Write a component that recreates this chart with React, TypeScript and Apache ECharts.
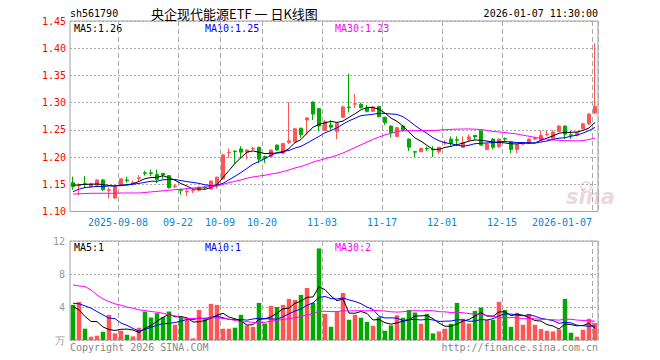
import React, { useEffect, useRef } from 'react';
import * as echarts from 'echarts';

const dates = [
  '2025-08-27','2025-08-28','2025-08-29',
  '2025-09-01','2025-09-02','2025-09-03','2025-09-04','2025-09-05','2025-09-08','2025-09-09','2025-09-10','2025-09-11','2025-09-12',
  '2025-09-15','2025-09-16','2025-09-17','2025-09-18','2025-09-19','2025-09-22','2025-09-23','2025-09-24','2025-09-25','2025-09-26',
  '2025-09-29','2025-09-30',
  '2025-10-09','2025-10-10','2025-10-13','2025-10-14','2025-10-15','2025-10-16','2025-10-17','2025-10-20','2025-10-21','2025-10-22',
  '2025-10-23','2025-10-24','2025-10-27','2025-10-28','2025-10-29','2025-10-30','2025-10-31',
  '2025-11-03','2025-11-04','2025-11-05','2025-11-06','2025-11-07','2025-11-10','2025-11-11','2025-11-12','2025-11-13','2025-11-14',
  '2025-11-17','2025-11-18','2025-11-19','2025-11-20','2025-11-21','2025-11-24','2025-11-25','2025-11-26','2025-11-27','2025-11-28',
  '2025-12-01','2025-12-02','2025-12-03','2025-12-04','2025-12-05','2025-12-08','2025-12-09','2025-12-10','2025-12-11','2025-12-12',
  '2025-12-15','2025-12-16','2025-12-17','2025-12-18','2025-12-19','2025-12-22','2025-12-23','2025-12-24','2025-12-25','2025-12-26',
  '2025-12-29','2025-12-30','2025-12-31',
  '2026-01-05','2026-01-06','2026-01-07',
];

const tickIdx = [8, 18, 25, 32, 42, 52, 62, 72, 87];
const tickText = ['2025-09-08', '09-22', '10-09', '10-20', '11-03', '11-17', '12-01', '12-15', '2026-01-07'];

const opens = [
  1.153,1.147,1.151,1.146,1.148,1.158,1.139,1.125,1.150,1.158,
  1.151,1.161,1.171,1.171,1.168,1.170,1.166,1.146,1.140,1.136,
  1.138,1.139,1.145,1.1415,1.147,1.160,1.208,1.211,1.215,1.209,
  1.215,1.218,1.201,1.201,1.222,1.207,1.227,1.228,1.253,1.268,
  1.301,1.289,1.249,1.259,1.247,1.273,1.292,1.297,1.297,1.290,
  1.284,1.293,1.273,1.257,1.238,1.257,1.233,1.210,1.210,1.216,
  1.214,1.210,1.226,1.233,1.232,1.218,1.232,1.240,1.248,1.214,
  1.233,1.219,1.234,1.228,1.214,1.224,1.225,1.233,1.231,1.241,
  1.233,1.247,1.257,1.241,1.240,1.252,1.261,1.281,
];
const closes = [
  1.146,1.148,1.150,1.151,1.158,1.140,1.140,1.145,1.160,1.157,
  1.153,1.162,1.170,1.170,1.159,1.167,1.144,1.147,1.139,1.137,
  1.139,1.145,1.144,1.156,1.163,1.204,1.209,1.210,1.209,1.213,
  1.216,1.196,1.198,1.213,1.213,1.225,1.230,1.252,1.241,1.272,
  1.279,1.257,1.265,1.255,1.262,1.292,1.291,1.298,1.291,1.284,
  1.292,1.274,1.263,1.245,1.254,1.249,1.218,1.209,1.216,1.215,
  1.213,1.218,1.227,1.225,1.231,1.227,1.237,1.237,1.222,1.224,
  1.218,1.233,1.233,1.214,1.223,1.225,1.233,1.234,1.240,1.242,
  1.246,1.257,1.242,1.240,1.245,1.261,1.279,1.293,
];
const lows = [
  1.140,1.130,1.143,1.143,1.147,1.138,1.124,1.123,1.149,1.153,
  1.148,1.155,1.166,1.165,1.152,1.160,1.142,1.143,1.131,1.128,
  1.134,1.137,1.141,1.140,1.142,1.158,1.198,1.188,1.198,1.196,
  1.213,1.189,1.189,1.200,1.212,1.205,1.224,1.227,1.235,1.241,
  1.268,1.247,1.248,1.250,1.233,1.272,1.282,1.290,1.289,1.282,
  1.283,1.273,1.259,1.236,1.237,1.247,1.211,1.200,1.209,1.211,
  1.200,1.205,1.222,1.220,1.220,1.217,1.230,1.232,1.221,1.213,
  1.214,1.217,1.228,1.207,1.207,1.222,1.224,1.231,1.230,1.238,
  1.231,1.246,1.233,1.233,1.238,1.251,1.259,1.279,
];
const highs = [
  1.164,1.152,1.165,1.153,1.159,1.160,1.144,1.146,1.160,1.164,
  1.157,1.167,1.175,1.177,1.177,1.171,1.167,1.150,1.142,1.143,
  1.142,1.146,1.147,1.157,1.164,1.206,1.216,1.212,1.220,1.214,
  1.219,1.219,1.203,1.214,1.223,1.226,1.301,1.254,1.254,1.273,
  1.302,1.290,1.268,1.268,1.263,1.295,1.353,1.316,1.300,1.296,
  1.294,1.294,1.274,1.258,1.255,1.258,1.234,1.210,1.217,1.219,
  1.220,1.219,1.231,1.238,1.238,1.238,1.242,1.240,1.249,1.225,
  1.235,1.234,1.236,1.229,1.224,1.227,1.234,1.237,1.249,1.248,
  1.249,1.259,1.258,1.248,1.246,1.263,1.281,1.409,
];
// volume, in 万
const volumes = [
  4.26,4.6,1.37,0.4,0.52,1.0,3.05,0.8,1.12,0.64,
  0.44,1.49,3.45,2.73,3.25,2.77,3.45,1.85,2.85,2.53,
  0.2,3.65,2.53,4.38,4.26,1.37,1.37,1.49,3.05,1.77,
  1.6,4.5,2.0,4.14,4.0,4.26,4.98,4.86,5.46,6.3,
  4.5,11.1,3.17,1.6,3.4,5.7,2.45,3.05,2.7,2.2,
  1.73,2.77,1.12,1.77,3.0,2.7,3.65,3.33,1.97,3.17,
  0.8,1.04,1.37,1.97,4.5,2.57,2.0,3.53,3.94,2.45,
  2.45,4.62,3.65,1.6,3.3,1.85,3.17,1.85,1.33,1.12,
  1.04,1.29,4.98,0.88,0.4,1.25,2.57,2.05,
];

// moving-average values for days whose window reaches before the first shown day
const ma5Head = [1.148, 1.149, 1.150, 1.150];
const ma10Head = [1.1365, 1.141, 1.144, 1.145, 1.146, 1.146, 1.147, 1.147, 1.1475];
const ma30Head = [
  1.132,1.1325,1.133,1.1335,1.1335,1.1335,1.1335,1.1335,1.134,1.134,
  1.134,1.134,1.135,1.136,1.137,1.138,1.139,1.140,1.141,1.142,
  1.143,1.144,1.145,1.146,1.147,1.150,1.153,1.1555,1.158,
];
const vma5Head = [4.05, 3.65, 2.85, 2.25];
const vma10Head = [4.46, 4.38, 4.14, 3.86, 3.45, 3.05, 2.65, 2.6, 2.05];
const vma30Head = [
  6.67,6.55,6.47,6.06,5.46,4.98,4.66,4.38,4.22,3.98,
  3.86,3.65,3.57,3.45,3.37,3.25,3.05,2.93,2.73,2.61,
  2.61,2.61,2.65,2.69,2.69,2.61,2.53,2.37,2.2,
];

const priceMaLabels = ['MA5:1.26', 'MA10:1.25', 'MA30:1.23'];
const volMaLabels = ['MA5:1', 'MA10:1', 'MA30:2'];
const priceTicks = { min: 1.1, max: 1.45, step: 0.05 };
const volTicks = { min: 0, max: 12, step: 4 };

const RED = '#ff5555';
const GREEN = '#00a800';
const BLUE_TXT = '#0a86d6';
const MA_COLORS = ['#000000', '#0000ff', '#ff00ff'];
const GRID_LINE = '#aaaaaa';
const BORDER = '#a0a0a0';
const MONO = '"DejaVu Sans Mono", "Liberation Mono", monospace';

function movingAverage(values: number[], n: number, head: number[]) {
  return values.map((_, i) => {
    if (i < n - 1) return head[i];
    let s = 0;
    for (let j = i - n + 1; j <= i; j++) s += values[j];
    return +(s / n).toFixed(4);
  });
}

export default function App() {
  const ref = useRef<HTMLDivElement>(null);

  useEffect(() => {
    if (!ref.current) return;
    const chart = echarts.init(ref.current, undefined, { renderer: 'svg' });

    const candles = dates.map((_, i) => [opens[i], closes[i], lows[i], highs[i]]);
    const volData = volumes.map((v, i) => ({
      value: v,
      itemStyle: { color: closes[i] >= opens[i] ? RED : GREEN },
    }));
    const showTick = (i: number) => tickIdx.indexOf(i) >= 0;

    const xCommon = {
      type: 'category' as const,
      data: dates,
      boundaryGap: true,
      axisLine: { show: false },
      axisTick: { show: false },
      splitLine: {
        show: true,
        interval: (i: number) => showTick(i),
        lineStyle: { color: GRID_LINE, type: [5, 3], width: 1 },
      },
    };

    const txt = (text: string, x: number, y: number, fill: string, align = 'left', font = `10px ${MONO}`) => ({
      type: 'text',
      silent: true,
      style: {
        text, x, y, fill, font,
        align, verticalAlign: 'middle',
        textAlign: align, textVerticalAlign: 'middle',
      },
    });

    const option: any = {
      animation: false,
      backgroundColor: '#ffffff',
      grid: [
        { left: 70, top: 21, width: 528, height: 190.5, show: true, borderColor: BORDER, borderWidth: 1, backgroundColor: 'transparent' },
        { left: 70, top: 241, width: 528, height: 99, show: true, borderColor: BORDER, borderWidth: 1, backgroundColor: 'transparent' },
      ],
      xAxis: [
        {
          ...xCommon,
          gridIndex: 0,
          axisLabel: {
            show: true,
            interval: (i: number) => showTick(i),
            formatter: (_v: string, i: number) => {
              const k = tickIdx.indexOf(i);
              const t = k >= 0 ? tickText[k] : '';
              return i === dates.length - 1 ? `{last|${t}}` : t;
            },
            color: BLUE_TXT,
            fontFamily: MONO,
            fontSize: 10,
            margin: 6,
            padding: [0, 6, 0, 0],
            rich: { last: { color: BLUE_TXT, fontFamily: MONO, fontSize: 10, padding: [0, 60, 0, 0] } },
          },
        },
        { ...xCommon, gridIndex: 1, axisLabel: { show: false } },
      ],
      yAxis: [
        {
          type: 'value',
          gridIndex: 0,
          min: priceTicks.min,
          max: priceTicks.max,
          interval: priceTicks.step,
          axisLine: { show: false },
          axisTick: { show: false },
          axisLabel: { color: '#ff0000', fontFamily: MONO, fontSize: 10, margin: 4, formatter: (v: number) => v.toFixed(2) },
          splitLine: { show: true, lineStyle: { color: GRID_LINE, type: [2, 2] } },
        },
        {
          type: 'value',
          gridIndex: 1,
          min: volTicks.min,
          max: volTicks.max,
          interval: volTicks.step,
          axisLine: { show: false },
          axisTick: { show: false },
          axisLabel: { color: '#999999', fontFamily: MONO, fontSize: 10, margin: 5, formatter: (v: number) => (v === 0 ? '万' : String(v)) },
          splitLine: { show: true, lineStyle: { color: GRID_LINE, type: [2, 2] } },
        },
      ],
      series: [
        {
          type: 'candlestick',
          xAxisIndex: 0,
          yAxisIndex: 0,
          data: candles,
          barWidth: 4,
          itemStyle: { color: RED, color0: GREEN, borderColor: RED, borderColor0: GREEN, borderWidth: 1 },
        },
        ...[ [5, ma5Head], [10, ma10Head], [30, ma30Head] ].map(([n, head], k) => ({
          type: 'line',
          xAxisIndex: 0,
          yAxisIndex: 0,
          data: movingAverage(closes, n as number, head as number[]),
          showSymbol: false,
          symbol: 'none',
          lineStyle: { color: MA_COLORS[k], width: 1 },
          z: 3,
        })),
        {
          type: 'bar',
          xAxisIndex: 1,
          yAxisIndex: 1,
          data: volData,
          barWidth: 4.5,
        },
        ...[ [5, vma5Head], [10, vma10Head], [30, vma30Head] ].map(([n, head], k) => ({
          type: 'line',
          xAxisIndex: 1,
          yAxisIndex: 1,
          data: movingAverage(volumes, n as number, head as number[]),
          showSymbol: false,
          symbol: 'none',
          lineStyle: { color: MA_COLORS[k], width: 1 },
          z: 3,
        })),
      ],
      graphic: [
        txt('sh561790', 70, 13, '#000000'),
        txt('央企现代能源ETF 一 日K线图', 151, 13, '#000000', 'left', '13px "Noto Sans CJK SC", sans-serif'),
        txt('2026-01-07 11:30:00', 598, 13, '#000000', 'right'),
        txt(priceMaLabels[0], 74, 28, MA_COLORS[0]),
        txt(priceMaLabels[1], 205, 28, MA_COLORS[1]),
        txt(priceMaLabels[2], 335, 28, MA_COLORS[2]),
        txt(volMaLabels[0], 74, 247, MA_COLORS[0]),
        txt(volMaLabels[1], 205, 247, MA_COLORS[1]),
        txt(volMaLabels[2], 335, 247, MA_COLORS[2]),
        txt('Copyright 2026 SINA.COM', 70, 347, '#888888'),
        txt('http://finance.sina.com.cn', 598, 347, '#888888', 'right'),
        txt('sina', 566, 197, 'rgba(210,170,170,0.45)', 'left', 'italic bold 21px "DejaVu Sans", sans-serif'),
        {
          type: 'circle',
          silent: true,
          shape: { cx: 586, cy: 187, r: 5 },
          style: { fill: 'none', stroke: 'rgba(220,150,150,0.45)', lineWidth: 1.5 },
        },
      ],
    };

    chart.setOption(option);
    return () => chart.dispose();
  }, []);

  return <div ref={ref} style={{ position: 'fixed', left: 0, top: 0, width: 660, height: 360 }} />;
}
